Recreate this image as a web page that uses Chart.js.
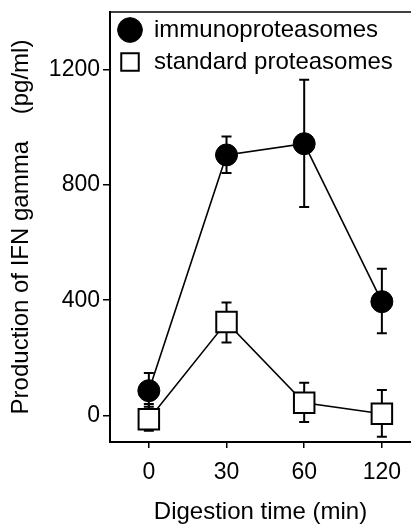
<!DOCTYPE html>
<html>
<head>
<meta charset="utf-8">
<script src="https://cdn.jsdelivr.net/npm/chart.js@4"></script>
<style>
  html, body { margin: 0; padding: 0; background: #fff; }
  #wrap { width: 411px; height: 525px; }
</style>
</head>
<body>
<div id="wrap"><canvas id="chart" width="411" height="525"></canvas></div>
<script>
// Data
const timeLabels = ['0', '30', '60', '120'];
const yTicks = [0, 400, 800, 1200];

const immunoMean = [86, 904, 943, 395];
const immunoHigh = [147, 968, 1165, 509];
const immunoLow = [30, 841, 723, 285];

const standardMean = [-13, 324, 44, 6];
const standardHigh = [40, 392, 114, 88];
const standardLow = [-53, 253, -23, -74];

const FONT = '"Liberation Sans", Arial, Helvetica, sans-serif';

const toPoints = (arr) => arr.map((v, i) => ({ x: i, y: v }));

// Error bars, drawn under the markers
const errorBars = {
    id: 'errorBars',
    beforeDatasetsDraw(chart) {
        const { ctx, scales: { x, y } } = chart;
        const sets = [[immunoHigh, immunoLow], [standardHigh, standardLow]];
        ctx.save();
        ctx.strokeStyle = '#000';
        ctx.lineWidth = 2;
        sets.forEach(([hi, lo]) => {
            hi.forEach((h, i) => {
                const px = x.getPixelForValue(i);
                const top = y.getPixelForValue(h);
                const bot = y.getPixelForValue(lo[i]);
                ctx.beginPath();
                ctx.moveTo(px, top); ctx.lineTo(px, bot);
                ctx.moveTo(px - 5, top); ctx.lineTo(px + 5, top);
                ctx.moveTo(px - 5, bot); ctx.lineTo(px + 5, bot);
                ctx.stroke();
            });
        });
        ctx.restore();
    }
};

// Top edge of the frame
const topFrame = {
    id: 'topFrame',
    afterDraw(chart) {
        const { ctx, chartArea } = chart;
        ctx.save();
        ctx.strokeStyle = '#000';
        ctx.lineWidth = 1.5;
        ctx.beginPath();
        ctx.moveTo(chartArea.left, chartArea.top);
        ctx.lineTo(chartArea.right, chartArea.top);
        ctx.stroke();
        ctx.restore();
    }
};

new Chart(document.getElementById('chart'), {
    type: 'line',
    data: {
        datasets: [
            {
                label: 'immunoproteasomes',
                data: toPoints(immunoMean),
                borderColor: '#000',
                backgroundColor: '#000',
                borderWidth: 1.6,
                pointStyle: 'circle',
                pointRadius: 11,
                pointBorderWidth: 1,
                pointBackgroundColor: '#000',
                pointBorderColor: '#000'
            },
            {
                label: 'standard proteasomes',
                data: toPoints(standardMean),
                borderColor: '#000',
                backgroundColor: '#fff',
                borderWidth: 1.6,
                pointStyle: 'rect',
                pointRadius: 14.5,
                pointBorderWidth: 2,
                pointBackgroundColor: '#fff',
                pointBorderColor: '#000'
            }
        ]
    },
    options: {
        responsive: false,
        animation: false,
        devicePixelRatio: 1,
        layout: { autoPadding: false, padding: { top: 12, right: 0, left: 0, bottom: 0 } },
        plugins: {
            tooltip: { enabled: false },
            legend: {
                position: 'chartArea',
                align: 'start',
                // empty title only pushes the entries down a little
                title: { display: true, text: '', font: { size: 10, lineHeight: 1 }, padding: 0 },
                labels: {
                    usePointStyle: true,
                    boxWidth: 24,
                    boxHeight: 17.5,
                    padding: 8,
                    color: '#000',
                    font: { family: FONT, size: 24 }
                }
            }
        },
        scales: {
            x: {
                type: 'linear',
                min: -0.5,
                max: 3.375,
                afterBuildTicks: (scale) => { scale.ticks = timeLabels.map((_, i) => ({ value: i })); },
                afterFit: (scale) => {
                    scale.height = 83;
                    scale.paddingLeft = 0;
                    scale.paddingRight = 0;
                },
                ticks: {
                    color: '#000',
                    font: { family: FONT, size: 23 },
                    padding: 11,
                    maxRotation: 0,
                    callback: (v) => timeLabels[v]
                },
                grid: { display: true, drawOnChartArea: false, drawTicks: true, tickLength: 6, color: '#000', lineWidth: 1.5 },
                border: { display: true, color: '#000', width: 2 },
                title: {
                    display: true,
                    text: 'Digestion time (min)',
                    color: '#000',
                    font: { family: FONT, size: 24, lineHeight: 1 },
                    padding: { top: 0, bottom: 1 }
                }
            },
            y: {
                type: 'linear',
                min: -92,
                max: 1400,
                afterBuildTicks: (scale) => { scale.ticks = yTicks.map(v => ({ value: v })); },
                afterFit: (scale) => {
                    scale.width = 110;
                    scale.paddingTop = 0;
                    scale.paddingBottom = 0;
                },
                ticks: {
                    color: '#000',
                    font: { family: FONT, size: 23 },
                    padding: 3,
                    callback: (v) => String(v)
                },
                grid: { display: true, drawOnChartArea: false, drawTicks: true, tickLength: 7, color: '#000', lineWidth: 1.5 },
                border: { display: true, color: '#000', width: 2 },
                title: {
                    display: true,
                    text: 'Production of IFN gamma    (pg/ml)',
                    color: '#000',
                    font: { family: FONT, size: 24, lineHeight: 1 },
                    padding: { top: 9, bottom: 0 }
                }
            }
        }
    },
    plugins: [errorBars, topFrame]
});
</script>
</body>
</html>
